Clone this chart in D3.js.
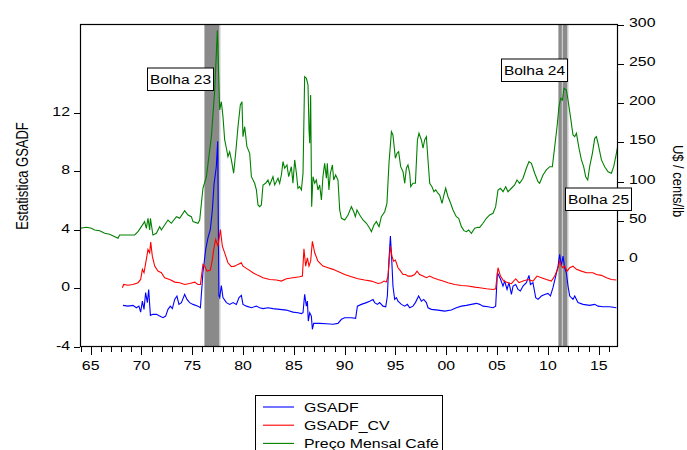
<!DOCTYPE html>
<html>
<head>
<meta charset="utf-8">
<script src="https://cdn.jsdelivr.net/npm/d3@7/dist/d3.min.js"></script>
<style>
html,body{margin:0;padding:0;background:#fff;}
svg{display:block;}
text{font-family:"Liberation Sans",Arial,sans-serif;fill:#000;}
</style>
</head>
<body>
<svg id="chart" width="687" height="450"></svg>
<script>
// ---------- DATA ----------
const gsadf = [
[1968.18,-1.16],[1968.67,-1.21],[1969.16,-1.16],[1969.50,-1.32],[1969.75,-1.21],[1969.92,-1.62],[1970.09,-0.87],[1970.25,-1.43],
[1970.41,-0.29],[1970.58,-0.97],[1970.71,-0.07],[1970.88,-1.84],[1971.13,-1.77],[1971.47,-1.77],[1971.79,-1.89],[1972.12,-2.00],
[1972.38,-1.89],[1972.61,-1.43],[1972.84,-1.21],[1973.04,-1.38],[1973.27,-0.75],[1973.49,-0.52],[1973.69,-1.09],[1973.93,-0.97],
[1974.25,-0.41],[1974.48,-0.75],[1974.74,-0.97],[1975.07,-1.09],[1975.56,-1.21],[1975.80,-1.32],[1976.05,1.07],[1976.32,2.66],
[1976.55,3.46],[1976.78,4.02],[1976.98,5.39],[1977.14,7.09],[1977.37,8.34],[1977.50,10.04],[1977.62,-0.50],[1977.70,-0.63],
[1977.86,0.20],[1978.02,-0.63],[1978.36,-0.97],[1978.68,-1.09],[1979.01,-0.97],[1979.34,-1.09],[1979.60,-0.63],[1979.83,-0.48],
[1979.99,-1.09],[1980.33,-1.21],[1980.82,-1.32],[1981.31,-1.21],[1981.63,-1.32],[1981.96,-1.38],[1982.45,-1.32],[1982.94,-1.38],
[1983.60,-1.43],[1984.26,-1.48],[1984.91,-1.62],[1985.40,-1.66],[1985.74,-1.72],[1985.90,-1.66],[1986.06,-0.41],[1986.23,-1.21],
[1986.33,-0.87],[1986.42,-2.23],[1986.56,-1.66],[1986.72,-1.89],[1986.82,-2.79],[1986.95,-2.39],[1987.54,-2.39],[1988.20,-2.41],
[1988.85,-2.45],[1989.34,-2.39],[1989.68,-2.11],[1990.00,-2.00],[1990.66,-2.00],[1991.08,-2.04],[1991.25,-1.21],[1991.64,-1.09],
[1992.14,-0.97],[1992.46,-0.87],[1992.79,-0.75],[1992.95,-0.97],[1993.22,-1.09],[1993.44,-0.97],[1993.77,-1.21],[1994.04,-1.25],
[1994.20,-0.52],[1994.36,1.98],[1994.50,3.57],[1994.63,1.98],[1994.75,0.16],[1994.92,-0.75],[1995.09,-0.63],[1995.25,-0.87],
[1995.58,-1.09],[1995.91,-1.21],[1996.17,-1.09],[1996.40,-1.32],[1996.72,-1.21],[1996.96,-0.97],[1997.28,-0.52],[1997.55,-0.87],
[1997.78,-0.75],[1998.04,-0.97],[1998.20,-1.32],[1998.53,-1.43],[1999.18,-1.48],[1999.84,-1.55],[2000.50,-1.48],[2000.99,-1.32],
[2001.49,-1.21],[2001.98,-1.16],[2002.47,-1.09],[2002.96,-1.02],[2003.29,-1.09],[2003.61,-1.21],[2004.10,-1.25],[2004.60,-1.32],
[2004.86,-1.21],[2005.03,1.07],[2005.19,0.84],[2005.35,0.61],[2005.58,0.16],[2005.75,0.50],[2005.98,-0.07],[2006.17,0.39],
[2006.41,-0.41],[2006.57,0.16],[2006.83,0.27],[2007.06,-0.07],[2007.29,-0.18],[2007.55,0.16],[2007.88,0.39],[2008.14,0.89],
[2008.28,0.27],[2008.53,0.39],[2008.80,-0.63],[2009.03,-0.75],[2009.36,-0.52],[2009.69,-0.41],[2010.01,-0.34],[2010.25,-0.52],
[2010.50,0.05],[2010.77,0.84],[2011.00,1.52],[2011.16,2.32],[2011.33,1.52],[2011.49,2.20],[2011.65,1.41],[2011.82,1.07],
[2011.98,0.16],[2012.15,-0.52],[2012.47,-0.75],[2012.64,-0.52],[2012.96,-0.97],[2013.46,-1.09],[2014.11,-1.16],[2014.61,-1.09],
[2014.93,-1.21],[2015.42,-1.25],[2016.08,-1.25],[2016.74,-1.32]
];

const gsadfCV = [
[1968.12,0.05],[1968.25,0.27],[1968.67,0.22],[1969.16,0.27],[1969.66,0.39],[1969.92,0.61],[1970.09,1.30],[1970.25,1.07],
[1970.48,1.98],[1970.64,2.66],[1970.81,2.43],[1970.91,3.16],[1971.07,2.20],[1971.30,1.52],[1971.62,1.18],[1971.96,1.07],
[1972.28,0.73],[1972.78,0.61],[1973.27,0.43],[1973.76,0.39],[1974.25,0.27],[1974.74,0.34],[1975.24,0.43],[1975.56,0.27],
[1975.80,0.27],[1976.05,1.64],[1976.22,1.52],[1976.45,1.18],[1976.78,1.25],[1976.98,1.98],[1977.11,2.66],[1977.30,3.34],
[1977.53,2.88],[1977.77,4.02],[1977.96,2.88],[1978.19,2.43],[1978.51,1.75],[1978.85,1.48],[1979.17,1.52],[1979.50,1.64],
[1979.83,1.75],[1979.99,1.52],[1980.48,1.30],[1980.97,1.07],[1981.47,0.89],[1981.96,0.73],[1982.62,0.61],[1983.28,0.57],
[1983.77,0.50],[1984.26,0.66],[1984.91,0.73],[1985.57,0.80],[1985.84,0.84],[1985.99,2.71],[1986.16,1.52],[1986.33,2.09],
[1986.49,1.52],[1986.65,1.86],[1986.82,3.22],[1987.05,2.43],[1987.37,1.86],[1987.86,1.52],[1988.36,1.41],[1988.85,1.30],
[1989.51,1.11],[1990.00,0.95],[1990.66,0.80],[1991.31,0.66],[1991.97,0.57],[1992.63,0.50],[1993.28,0.34],[1993.61,0.39],
[1993.87,0.50],[1994.10,0.43],[1994.26,0.84],[1994.50,2.88],[1994.65,2.20],[1994.82,1.86],[1994.99,1.93],[1995.25,1.41],
[1995.51,1.18],[1995.74,0.95],[1996.00,0.95],[1996.23,0.84],[1996.57,0.84],[1996.89,0.95],[1997.12,1.18],[1997.38,0.95],
[1997.71,0.84],[1998.04,0.73],[1998.37,0.84],[1998.69,0.73],[1999.18,0.61],[1999.67,0.50],[2000.17,0.39],[2000.83,0.27],
[2001.49,0.20],[2002.14,0.16],[2002.80,0.09],[2003.29,0.05],[2003.95,-0.02],[2004.60,-0.07],[2004.86,-0.02],[2005.09,1.41],
[2005.33,0.84],[2005.65,0.50],[2006.07,0.39],[2006.41,0.32],[2006.83,0.66],[2007.15,0.39],[2007.55,0.50],[2008.04,0.61],
[2008.53,0.50],[2008.93,0.84],[2009.36,0.73],[2009.85,0.61],[2010.34,0.50],[2010.67,0.84],[2011.00,1.41],[2011.16,1.86],
[2011.43,1.41],[2011.65,1.52],[2011.88,1.18],[2012.15,1.41],[2012.47,1.52],[2012.81,1.30],[2013.30,1.18],[2013.79,1.07],
[2014.44,1.07],[2014.77,0.95],[2015.27,0.89],[2015.76,0.73],[2016.25,0.61],[2016.74,0.57]
];

const precoCafe = [
[1964.00,40.4],[1964.58,41.7],[1965.07,40.4],[1965.39,38.3],[1965.89,37.4],[1966.38,34.1],[1966.87,32.8],[1967.69,27.7],
[1967.85,31.9],[1968.51,31.9],[1969.33,31.9],[1969.66,36.1],[1969.99,42.5],[1970.31,48.9],[1970.48,40.4],[1970.64,53.2],
[1970.81,38.3],[1970.88,53.2],[1971.13,31.9],[1971.47,34.1],[1971.79,42.5],[1971.96,38.3],[1972.28,44.6],[1972.61,51.0],
[1972.94,46.8],[1973.44,55.2],[1973.76,53.2],[1974.25,62.9],[1974.58,57.4],[1974.91,55.2],[1975.07,48.9],[1975.56,46.8],
[1975.73,51.0],[1976.05,91.5],[1976.39,106.2],[1976.88,157.3],[1977.20,214.7],[1977.47,293.0],[1977.70,191.3],[1977.86,201.9],
[1978.02,182.8],[1978.19,153.1],[1978.36,142.5],[1978.51,131.8],[1978.68,138.1],[1978.85,127.6],[1979.07,110.6],[1979.27,136.1],
[1979.50,170.0],[1979.73,197.7],[1979.89,201.9],[1979.99,157.3],[1980.16,170.0],[1980.38,144.5],[1980.65,136.1],[1980.82,106.2],
[1981.14,97.8],[1981.31,89.3],[1981.47,70.2],[1981.63,68.0],[1981.80,70.2],[1981.96,95.7],[1982.22,97.8],[1982.45,102.0],
[1982.62,95.7],[1982.94,106.2],[1983.11,95.7],[1983.44,104.2],[1983.60,97.8],[1983.77,108.4],[1983.93,125.4],[1984.09,117.0],
[1984.32,121.2],[1984.49,106.2],[1984.75,119.0],[1984.91,97.8],[1985.08,127.6],[1985.25,110.6],[1985.40,91.5],[1985.57,93.5],
[1985.74,89.3],[1985.90,110.6],[1986.06,233.8],[1986.23,231.8],[1986.39,223.2],[1986.49,165.8],[1986.56,148.9],[1986.65,210.5],
[1986.75,68.0],[1986.88,106.2],[1987.05,97.8],[1987.21,102.0],[1987.37,89.3],[1987.54,95.7],[1987.71,76.5],[1987.86,106.2],
[1988.03,123.3],[1988.20,104.2],[1988.29,123.3],[1988.45,89.3],[1988.59,110.6],[1988.79,121.2],[1988.92,102.0],[1989.11,108.4],
[1989.34,102.0],[1989.51,63.8],[1989.68,53.2],[1990.00,51.0],[1990.33,57.4],[1990.66,68.0],[1990.89,61.6],[1991.05,55.2],
[1991.21,63.8],[1991.48,57.4],[1991.80,51.0],[1992.14,46.8],[1992.46,40.4],[1992.63,36.1],[1992.88,44.6],[1993.12,48.9],
[1993.38,42.5],[1993.61,55.2],[1993.94,61.6],[1994.16,72.3],[1994.36,123.3],[1994.60,163.6],[1994.75,159.4],[1994.99,129.7],
[1995.15,136.1],[1995.31,138.1],[1995.51,119.0],[1995.74,112.6],[1995.91,97.8],[1996.07,117.0],[1996.23,121.2],[1996.40,110.6],
[1996.50,93.5],[1996.72,97.8],[1996.96,97.8],[1997.16,153.1],[1997.31,161.6],[1997.55,153.1],[1997.71,142.5],[1997.87,153.1],
[1998.04,157.3],[1998.20,127.6],[1998.37,97.8],[1998.59,93.5],[1998.79,87.1],[1998.96,89.3],[1999.18,85.1],[1999.35,82.9],
[1999.58,72.3],[1999.77,82.9],[1999.94,91.5],[2000.17,80.7],[2000.43,72.3],[2000.66,63.8],[2000.99,55.2],[2001.22,53.2],
[2001.49,42.5],[2001.74,37.4],[2001.98,36.1],[2002.20,38.3],[2002.47,34.1],[2002.80,40.4],[2003.12,41.7],[2003.29,41.5],
[2003.61,46.8],[2003.95,53.2],[2004.27,57.4],[2004.60,59.6],[2004.86,68.0],[2005.09,89.3],[2005.33,91.5],[2005.58,87.1],
[2005.85,93.5],[2006.07,87.1],[2006.41,91.5],[2006.73,95.7],[2006.96,102.0],[2007.22,97.8],[2007.55,104.2],[2007.88,117.0],
[2008.14,125.4],[2008.38,123.3],[2008.70,110.6],[2009.03,99.9],[2009.19,97.8],[2009.52,108.4],[2009.85,114.8],[2010.18,119.0],
[2010.44,119.0],[2010.67,144.5],[2010.90,170.0],[2011.09,195.5],[2011.26,206.3],[2011.43,204.1],[2011.59,219.0],[2011.82,216.8],
[2011.98,204.1],[2012.22,182.8],[2012.47,159.4],[2012.64,157.3],[2012.81,161.6],[2013.06,142.5],[2013.30,127.6],[2013.52,119.0],
[2013.72,106.2],[2013.92,102.0],[2014.11,119.0],[2014.38,136.1],[2014.61,155.2],[2014.77,157.3],[2014.93,148.9],[2015.27,127.6],
[2015.59,119.0],[2015.92,112.6],[2016.25,110.6],[2016.48,119.0],[2016.74,136.1],[2016.87,145.4]
];

// bubble periods (start, end, label)
const bolhas = [
  {nome: "Bolha 23", inicio: 1976.22, fim: 1977.63},
  {nome: "Bolha 24", inicio: 2011.06, fim: 2011.36},
  {nome: "Bolha 25", inicio: 2011.49, fim: 2011.88}
];

const leftTicks = [-4, 0, 4, 8, 12];
const rightTicks = [0, 50, 100, 150, 200, 250, 300];
const yearTicks = d3.range(1964, 2017);
const yearLabels = ["65","70","75","80","85","90","95","00","05","10","15"];
const legendItems = ["GSADF", "GSADF_CV", "Preço Mensal Café"];
const seriesColors = ["#0000ff", "#ff0000", "#008000"];

// ---------- LAYOUT ----------
const L = 80, R = 618, T = 24, B = 347;
const SX = 1.22; // horizontal stretch of glyphs in the reference
const svg = d3.select("#chart");

const x = d3.scaleLinear().domain([1963.95, 2016.9]).range([L, R]);
const yL = d3.scaleLinear().domain([-4, 18.05]).range([B, T]);
const yR = d3.scaleLinear().domain([-111, 301]).range([B, T]);

svg.append("defs").append("clipPath").attr("id","clip")
  .append("rect").attr("x",L).attr("y",T).attr("width",R-L).attr("height",B-T);

// bubble shading
const shade = svg.append("g").attr("clip-path","url(#clip)");
shade.selectAll("rect.edge").data(bolhas).enter().append("rect")
  .attr("x", d => x(d.inicio) - 0.5).attr("width", d => x(d.fim) - x(d.inicio) + 2)
  .attr("y", T).attr("height", B - T)
  .attr("fill", "#c8c8c8");
shade.selectAll("rect.core").data(bolhas).enter().append("rect")
  .attr("x", d => x(d.inicio)).attr("width", d => x(d.fim) - x(d.inicio))
  .attr("y", T).attr("height", B - T)
  .attr("fill", "#8a8a8a");

// lines
const lineL = d3.line().x(d => x(d[0])).y(d => yL(d[1]));
const lineR = d3.line().x(d => x(d[0])).y(d => yR(d[1]));
const lines = svg.append("g").attr("clip-path","url(#clip)");
lines.append("path").datum(gsadf).attr("d", lineL).attr("fill","none").attr("stroke",seriesColors[0]).attr("stroke-width",1.1);
lines.append("path").datum(gsadfCV).attr("d", lineL).attr("fill","none").attr("stroke",seriesColors[1]).attr("stroke-width",1.1);
lines.append("path").datum(precoCafe).attr("d", lineR).attr("fill","none").attr("stroke",seriesColors[2]).attr("stroke-width",1.1);

// frame
svg.append("rect").attr("x",L+0.5).attr("y",T+0.5).attr("width",R-L-1).attr("height",B-T-1)
  .attr("fill","none").attr("stroke","#000").attr("stroke-width",1.2);

function stretchedText(g, tx, ty, str, anchor) {
  return g.append("g").attr("transform", `translate(${tx},${ty}) scale(${SX},1)`)
    .append("text").attr("text-anchor", anchor).attr("font-size", 13).text(str);
}

// left axis
const gl = svg.append("g");
leftTicks.forEach(v => {
  const yy = Math.round(yL(v)) + 0.5;
  gl.append("line").attr("x1", L - 6).attr("x2", L).attr("y1", yy).attr("y2", yy).attr("stroke","#000");
  stretchedText(gl, 70, yy - 2.5, String(v), "end").attr("dy","0.35em");
});

// right axis
const gr = svg.append("g");
rightTicks.forEach(v => {
  const yy = Math.round(yR(v)) + 0.5;
  gr.append("line").attr("x1", R).attr("x2", R + 6).attr("y1", yy).attr("y2", yy).attr("stroke","#000");
  stretchedText(gr, 629, yy - 3, String(v), "start").attr("dy","0.35em");
});

// bottom axis
const gb = svg.append("g");
yearTicks.forEach(yr => {
  const xx = Math.round(x(yr)) + 0.5;
  const major = yr % 5 === 0;
  gb.append("line").attr("x1", xx).attr("x2", xx).attr("y1", B).attr("y2", B + (major ? 8 : 5)).attr("stroke","#000");
});
const majorYears = yearTicks.filter(yr => yr % 5 === 0);
majorYears.forEach((yr, i) => {
  stretchedText(gb, x(yr), 370, yearLabels[i], "middle");
});

// axis titles
svg.append("text").attr("transform", `translate(22,176) scale(${SX},1) rotate(-90)`)
  .attr("text-anchor","middle").attr("dy","0.35em").attr("font-size",13).text("Estatistica GSADF");
svg.append("text").attr("transform", `translate(678.5,181) scale(1.1,1) rotate(90)`)
  .attr("text-anchor","middle").attr("dy","0.35em").attr("font-size",13).text("U$ / cents/lb");

// bubble labels
const labelPos = [
  {x0: 1970.52, y0: 67.5},
  {x0: 2005.37, y0: 58.5},
  {x0: 2011.72, y0: 187.5}
];
bolhas.forEach((b, i) => {
  const p = labelPos[i];
  const bx = Math.round(x(p.x0)) + 0.5, by = p.y0 + 0.5;
  const g = svg.append("g");
  g.append("rect").attr("x", bx).attr("y", by).attr("width", 66).attr("height", 22.5)
    .attr("fill","#fff").attr("stroke","#000").attr("stroke-width",1);
  g.append("g").attr("transform", `translate(${bx + 33},${by + 16}) scale(1.15,1)`)
    .append("text").attr("text-anchor","middle").attr("font-size",13.5).text(b.nome);
});

// legend
const lg = svg.append("g");
lg.append("rect").attr("x",255.5).attr("y",395.5).attr("width",187).attr("height",70)
  .attr("fill","#fff").attr("stroke","#000");
legendItems.forEach((name, i) => {
  const yy = 407 + i * 18.2;
  lg.append("line").attr("x1",263).attr("x2",294).attr("y1",yy).attr("y2",yy)
    .attr("stroke",seriesColors[i]).attr("stroke-width",1.1);
  stretchedText(lg, 304, yy, name, "start").attr("dy","0.35em");
});
</script>
</body>
</html>
